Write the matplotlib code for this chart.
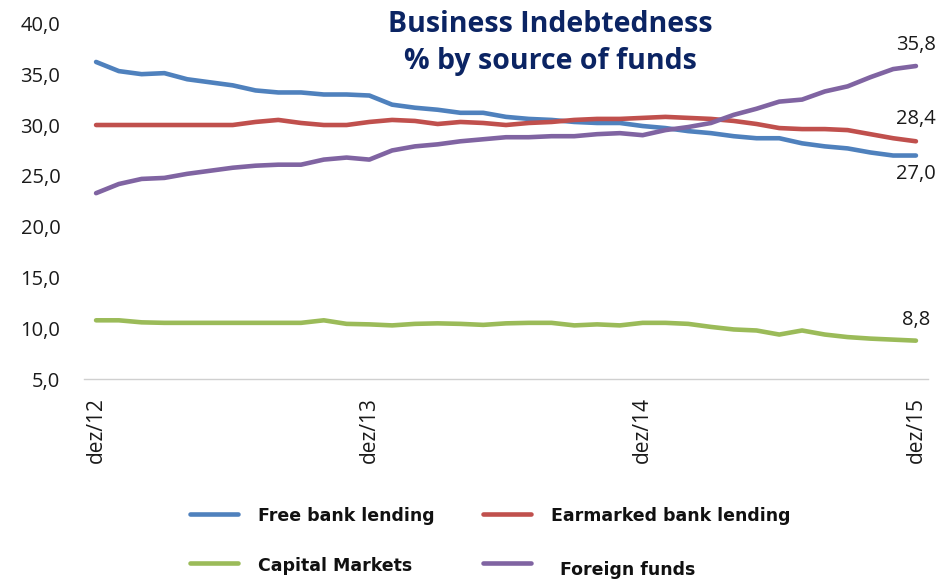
import matplotlib
matplotlib.use("Agg")
import matplotlib.pyplot as plt
from matplotlib.lines import Line2D

# Monthly series, Dec/2012 .. Dec/2015 (37 months), % of total business debt
months = list(range(37))
tick_positions = [0, 12, 24, 36]
tick_labels = ["dez/12", "dez/13", "dez/14", "dez/15"]

free_bank = [36.2, 35.3, 35.0, 35.1, 34.5, 34.2, 33.9, 33.4, 33.2, 33.2,
             33.0, 33.0, 32.9, 32.0, 31.7, 31.5, 31.2, 31.2, 30.8, 30.6,
             30.5, 30.3, 30.2, 30.2, 29.9, 29.7, 29.4, 29.2, 28.9, 28.7,
             28.7, 28.2, 27.9, 27.7, 27.3, 27.0, 27.0]
earmarked = [30.0, 30.0, 30.0, 30.0, 30.0, 30.0, 30.0, 30.3, 30.5, 30.2,
             30.0, 30.0, 30.3, 30.5, 30.4, 30.1, 30.3, 30.2, 30.0, 30.2,
             30.3, 30.5, 30.6, 30.6, 30.7, 30.8, 30.7, 30.6, 30.4, 30.1,
             29.7, 29.6, 29.6, 29.5, 29.1, 28.7, 28.4]
capital_mkt = [10.8, 10.8, 10.6, 10.55, 10.55, 10.55, 10.55, 10.55, 10.55, 10.55,
               10.8, 10.45, 10.4, 10.3, 10.45, 10.5, 10.45, 10.35, 10.5, 10.55,
               10.55, 10.3, 10.4, 10.3, 10.55, 10.55, 10.45, 10.15, 9.9, 9.8,
               9.4, 9.8, 9.4, 9.15, 9.0, 8.9, 8.8]
foreign = [23.3, 24.2, 24.7, 24.8, 25.2, 25.5, 25.8, 26.0, 26.1, 26.1,
           26.6, 26.8, 26.6, 27.5, 27.9, 28.1, 28.4, 28.6, 28.8, 28.8,
           28.9, 28.9, 29.1, 29.2, 29.0, 29.5, 29.8, 30.2, 31.0, 31.6,
           32.3, 32.5, 33.3, 33.8, 34.7, 35.5, 35.8]

series_names = ["Free bank lending", "Earmarked bank lending",
                "Capital Markets", "Foreign funds"]
colors = ["#4F81BD", "#C0504D", "#9BBB59", "#8064A2"]

fig = plt.figure(figsize=(9.45, 5.79), dpi=100)
ax = fig.add_axes([84 / 945, 1 - 379.3 / 579, (928 - 84) / 945, (379.3 - 23.3) / 579])

data = [free_bank, earmarked, capital_mkt, foreign]
for vals, col in zip(data, colors):
    ax.plot(months, vals, color=col, lw=3.3, solid_capstyle="round",
            solid_joinstyle="round")

ax.set_ylim(5, 40)
ax.set_xlim(-0.53, 36.53)
ax.set_yticks([5, 10, 15, 20, 25, 30, 35, 40])
ax.set_yticklabels([f"{v:.1f}".replace(".", ",") for v in ax.get_yticks()],
                   fontsize=14.5, fontfamily="Open Sans", color="#1a1a1a")
ax.set_xticks(tick_positions)
ax.set_xticklabels(tick_labels, rotation=90, fontsize=15,
                   fontfamily="Open Sans", color="#1a1a1a", va="top")
ax.tick_params(axis="both", length=0)
ax.tick_params(axis="x", pad=13)
ax.tick_params(axis="y", pad=17)
for s in ["top", "right", "left"]:
    ax.spines[s].set_visible(False)
ax.spines["bottom"].set_color("#d0d0d0")
ax.spines["bottom"].set_linewidth(1.0)

# End-of-period value labels (offsets in points: above or below the last point)
label_offsets = [-13, 16, 15, 15]
for vals, off in zip(data, label_offsets):
    ax.annotate(f"{vals[-1]:.1f}".replace(".", ","), (months[-1], vals[-1]),
                xytext=(0, off), textcoords="offset points", ha="center",
                va="center", fontsize=14.5, fontfamily="Open Sans",
                color="#1a1a1a")

# Title
fig.text(550 / 945, 1 - 25 / 579, "Business Indebtedness", ha="center",
         va="center", fontsize=20.5, fontweight="bold", color="#0B2463",
         fontfamily="Open Sans")
fig.text(550 / 945, 1 - 62 / 579, "% by source of funds", ha="center",
         va="center", fontsize=20.5, fontweight="bold", color="#0B2463",
         fontfamily="Open Sans")

# Legend, drawn as line samples plus labels
leg_ax = fig.add_axes([0, 0, 1, 1], facecolor="none")
leg_ax.set_xlim(0, 945)
leg_ax.set_ylim(579, 0)
leg_ax.axis("off")
legend_slots = [(190, 514, 258, 516), (483, 514, 551, 516),
                (190, 563, 258, 566), (483, 563, 560, 570)]
for name, col, (lx, ly, tx, ty) in zip(series_names, colors, legend_slots):
    leg_ax.add_line(Line2D([lx, lx + 48], [ly, ly], color=col, lw=3.3,
                           solid_capstyle="round"))
    leg_ax.text(tx, ty, name, ha="left", va="center", fontsize=12.5,
                fontweight="bold", color="#111111", fontfamily="DejaVu Sans")

fig.savefig("out.png", dpi=100)
